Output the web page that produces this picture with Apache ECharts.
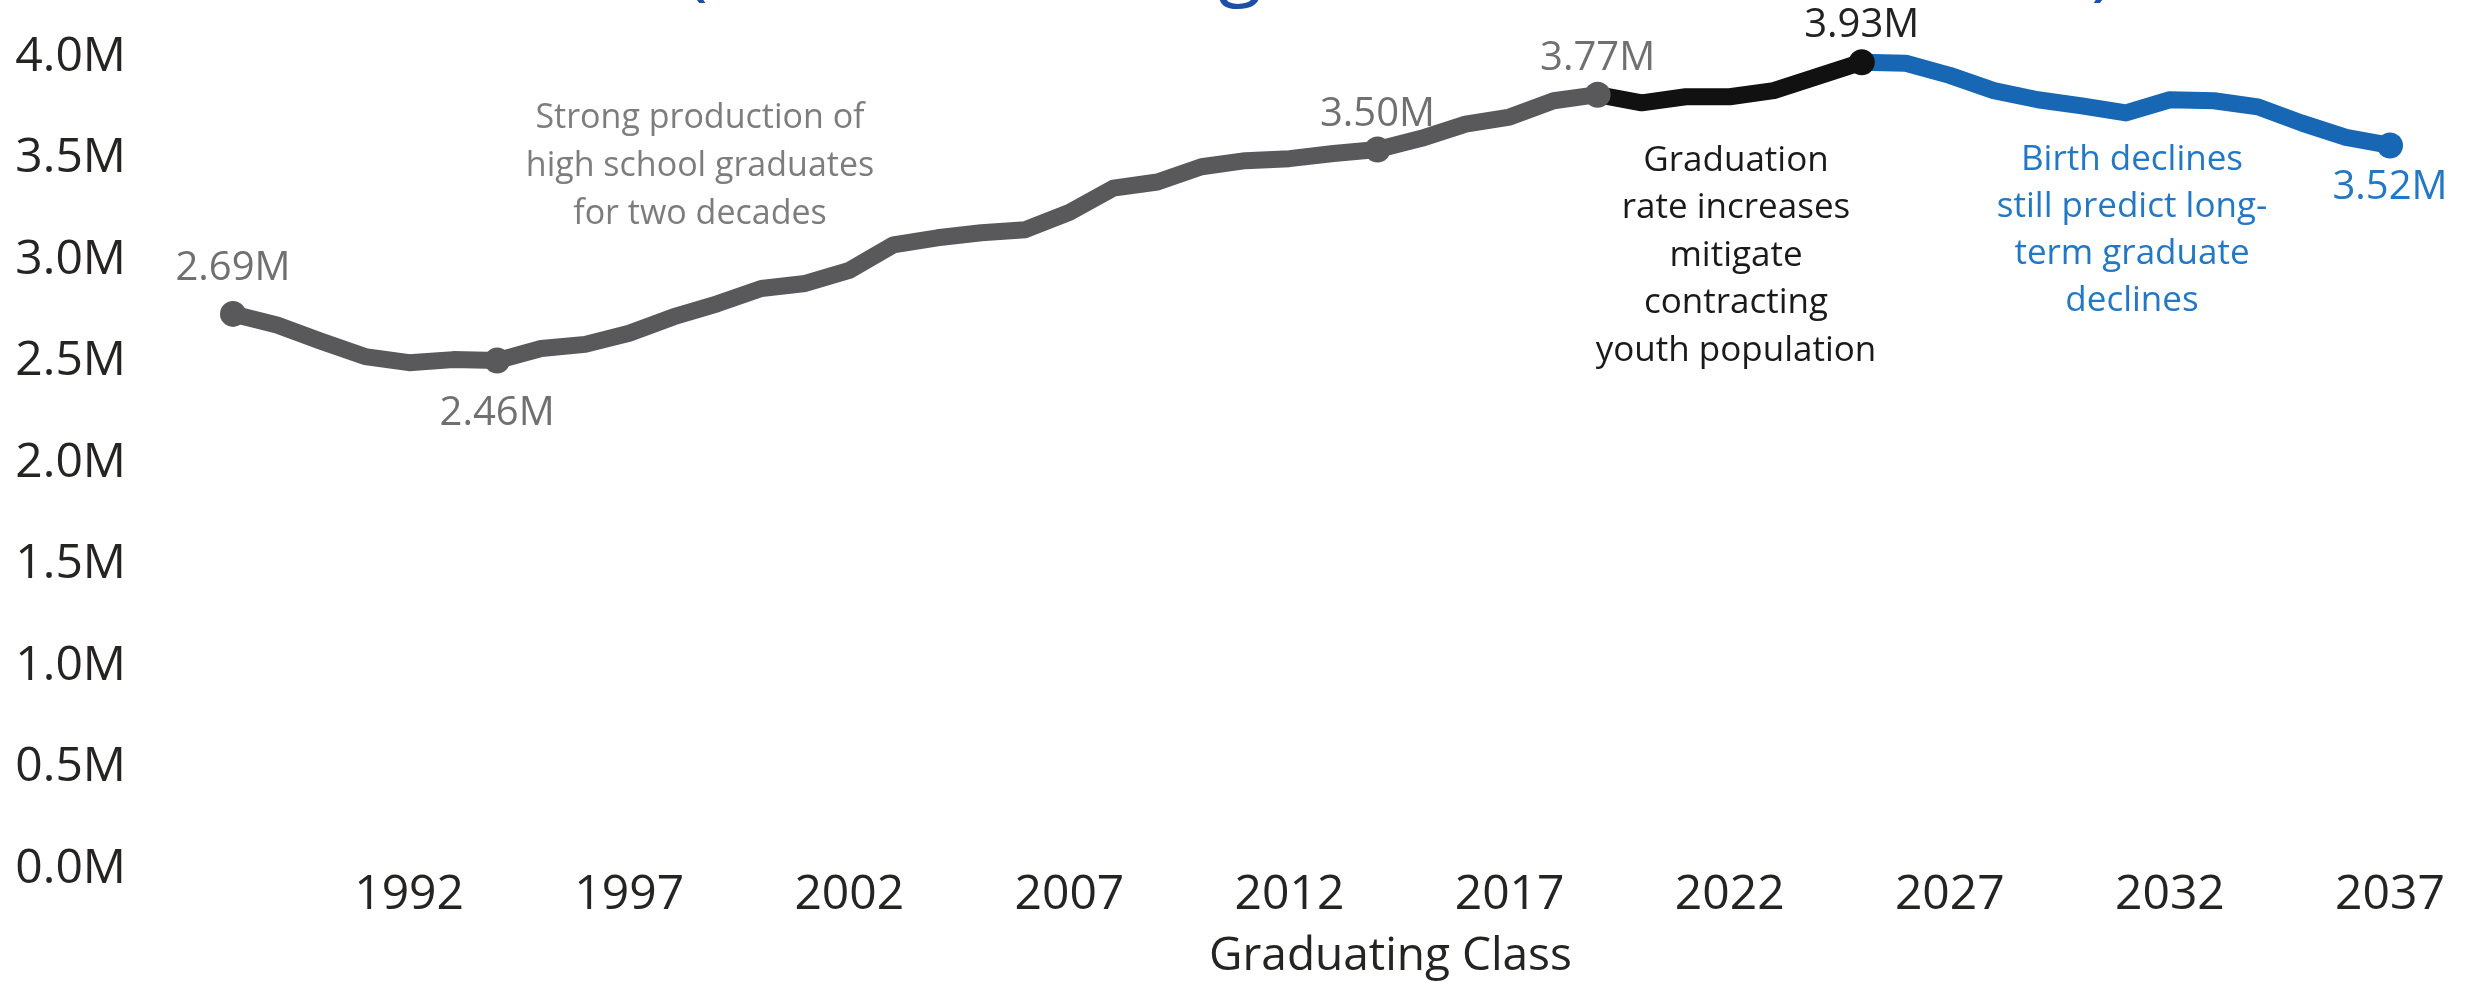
<!DOCTYPE html>
<html><head><meta charset="utf-8">
<script src="https://cdn.jsdelivr.net/npm/echarts@6/dist/echarts.min.js"></script>
<style>html,body{margin:0;padding:0;background:#fff}#c{width:2466px;height:989px}</style>
</head><body><div id="c"></div>
<script>
// ---- data ----
const years = [];
for (let y = 1988; y <= 2037; y++) years.push(String(y));
const graduatesM = [
  2.69, 2.635, 2.555, 2.48, 2.45, 2.465, 2.46, 2.52, 2.54, 2.595,
  2.675, 2.74, 2.815, 2.84, 2.905, 3.03, 3.065, 3.09, 3.105, 3.19,
  3.31, 3.34, 3.415, 3.445, 3.455, 3.48, 3.50, 3.555, 3.625, 3.66,
  3.74, 3.77, 3.73, 3.76, 3.76, 3.79, 3.86, 3.93, 3.925, 3.865,
  3.79, 3.745, 3.715, 3.68, 3.745, 3.74, 3.71, 3.63, 3.56, 3.52
];
const historicEndYear = 2019;
const peakYear = 2025;
const calloutYears = [1988, 1994, 2014, 2019, 2025, 2037];
const yTicks = [0, 0.5, 1, 1.5, 2, 2.5, 3, 3.5, 4];
const xAxisTitle = 'Graduating Class';
const notes = {
  past: 'Strong production of\nhigh school graduates\nfor two decades',
  mid: 'Graduation\nrate increases\nmitigate\ncontracting\nyouth population',
  future: 'Birth declines\nstill predict long-\nterm graduate\ndeclines'
};

// ---- styles ----
const FONT = '"Open Sans", "Noto Sans", sans-serif';
const GRAY = '#59595B', BLACK = '#111111', BLUE = '#1767B4';
const labelPlace = { // position & distance of callout labels
  1988: ['top', 12], 1994: ['bottom', 20], 2014: ['top', 2],
  2019: ['top', 3], 2025: ['top', 4], 2037: ['bottom', 9]
};

function segment(from, to, ownFrom, color, textColor, z) {
  return {
    type: 'line', z: z, symbol: 'none', showSymbol: true, animation: false,
    lineStyle: { color: color, width: 17, cap: 'round', join: 'round' },
    itemStyle: { color: color },
    emphasis: { disabled: true },
    data: years.map((ys, i) => {
      const y = +ys;
      if (y < from || y > to) return null;
      const item = { value: graduatesM[i] };
      if (calloutYears.includes(y) && y >= ownFrom) {
        const [pos, dist] = labelPlace[y];
        item.symbol = 'circle';
        item.symbolSize = 26;
        item.label = {
          show: true, position: pos, distance: dist,
          formatter: p => p.value.toFixed(2) + 'M',
          color: textColor, fontSize: 40, fontFamily: FONT
        };
      }
      return item;
    })
  };
}

const chart = echarts.init(document.getElementById('c'), null, { renderer: 'canvas' });
chart.setOption({
  backgroundColor: '#fff',
  animation: false,
  grid: { left: 233, right: 76, top: 48, bottom: 129 },
  xAxis: {
    type: 'category', data: years, boundaryGap: false,
    axisLine: { show: false }, axisTick: { show: false }, splitLine: { show: false },
    axisLabel: {
      interval: (i, v) => (+v - 1992) % 5 === 0,
      color: '#252423', fontSize: 48, fontFamily: FONT, margin: 11
    },
    name: xAxisTitle, nameLocation: 'middle', nameGap: 74,
    nameTextStyle: { color: '#252423', fontSize: 46, fontFamily: FONT, padding: [0, 0, 0, 158] }
  },
  yAxis: {
    type: 'value', min: yTicks[0], max: yTicks[yTicks.length - 1], interval: yTicks[1] - yTicks[0],
    axisLine: { show: false }, axisTick: { show: false }, splitLine: { show: false },
    axisLabel: {
      formatter: v => v.toFixed(1) + 'M',
      color: '#252423', fontSize: 48, fontFamily: FONT, margin: 107,
      verticalAlign: 'top', lineHeight: 18
    }
  },
  series: [
    segment(1988, historicEndYear, 1988, GRAY, '#707070', 4),
    segment(historicEndYear, peakYear, historicEndYear + 1, BLACK, '#222222', 3),
    segment(peakYear, 2037, peakYear + 1, BLUE, '#2378C6', 2)
  ],
  graphic: [
    { type: 'text', x: 700, y: 166, style: { text: notes.past, fill: '#7d7d7d', font: '34px ' + FONT, textAlign: 'center', verticalAlign: 'middle', lineHeight: 48 } },
    { type: 'text', x: 1736, y: 256, style: { text: notes.mid, fill: '#1a1a1a', font: '35px ' + FONT, textAlign: 'center', verticalAlign: 'middle', lineHeight: 47.5 } },
    { type: 'text', x: 2132, y: 231, style: { text: notes.future, fill: '#2378C6', font: '35px ' + FONT, textAlign: 'center', verticalAlign: 'middle', lineHeight: 47 } },
    { type: 'text', x: 696, y: -33, style: { text: '(', fill: '#1E4FA6', font: '80px ' + FONT, textAlign: 'center', verticalAlign: 'middle' } },
    { type: 'text', x: 1240, y: -33, style: { text: 'g', fill: '#1E4FA6', font: '80px ' + FONT, textAlign: 'center', verticalAlign: 'middle' } },
    { type: 'text', x: 2103, y: -33, style: { text: ')', fill: '#1E4FA6', font: '80px ' + FONT, textAlign: 'center', verticalAlign: 'middle' } }
  ]
});
</script>
</body></html>
